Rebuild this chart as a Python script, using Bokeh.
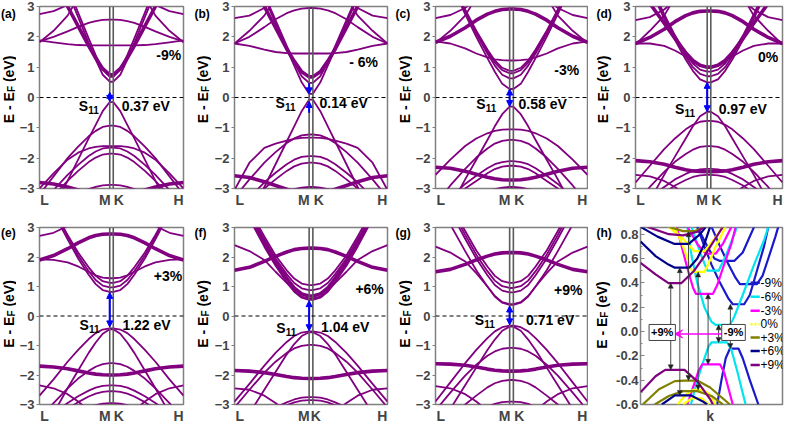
import math
from bokeh.plotting import figure
from bokeh.layouts import row, column
from bokeh.models import (Label, Arrow, NormalHead, VeeHead, FixedTicker, Span,
                          Range1d, NumeralTickFormatter)
from bokeh.embed import file_html
from bokeh.resources import INLINE

FONT = "Liberation Sans"
PURPLE = "#800080"
BLUE = "#0000FF"

# ---------------- data: panels (a)-(g) ----------------
# fraction of the path from M towards L (mirrored from K towards H)
D = [0, 0.1, 0.2, 0.3, 0.45, 0.6, 0.8, 1.0]
X_M, X_K, X_H = 1.0, 1.05, 2.05

a_thin = [
    [0.52, 0.75, 1.25, 1.8, 2.65, 3.5, 4.6, 5.7],
    [0.68, 0.92, 1.4, 1.95, 2.8, 3.65, 4.7, 5.8],
    [1.72, 1.72, 1.72, 1.72, 1.73, 1.76, 1.82, 1.88],
    [2.57, 2.56, 2.52, 2.46, 2.33, 2.18, 2.0, 1.85],
    [6.0, 5.2, 4.6, 4.0, 3.3, 2.7, 2.2, 1.82],
    [5.0, 4.5, 4.1, 3.8, 3.4, 3.05, 2.85, 2.75],
    [-0.15, -0.45, -0.9, -1.35, -2.05, -2.75, -3.6, -4.5],
    [-0.93, -0.97, -1.1, -1.28, -1.62, -2.0, -2.6, -3.2],
    [-1.65, -1.68, -1.78, -1.93, -2.22, -2.55, -3.05, -3.6],
    [-1.85, -1.88, -1.98, -2.13, -2.42, -2.75, -3.25, -3.8],
    [-1.6, -1.6, -1.63, -1.68, -1.82, -2.05, -2.5, -3.0],
    [-2.88, -2.9, -2.95, -3.02, -3.15, -3.3, -3.5, -3.7],
]
a_thick = [
    [0.75, 0.95, 1.3, 1.7, 2.35, 3.0, 3.9, 4.8],
    [-3.4, -3.35, -3.3, -3.2, -3.05, -2.95, -2.85, -2.8],
]

b_thin = [
    [0.12, 0.5, 1.05, 1.6, 2.45, 3.3, 4.4, 5.5],
    [0.48, 0.7, 1.15, 1.7, 2.55, 3.4, 4.5, 5.6],
    [1.45, 1.45, 1.45, 1.46, 1.5, 1.58, 1.7, 1.78],
    [2.95, 2.93, 2.87, 2.78, 2.58, 2.32, 2.0, 1.78],
    [6.0, 5.2, 4.6, 4.0, 3.3, 2.7, 2.2, 1.78],
    [4.5, 4.2, 3.9, 3.6, 3.25, 2.95, 2.7, 2.62],
    [-0.07, -0.45, -0.95, -1.45, -2.2, -2.95, -3.9, -4.8],
    [-1.22, -1.25, -1.35, -1.5, -1.8, -2.15, -2.7, -3.3],
    [-1.32, -1.33, -1.36, -1.42, -1.52, -1.66, -2.15, -3.05],
    [-1.93, -1.96, -2.05, -2.2, -2.48, -2.8, -3.3, -3.8],
    [-2.15, -2.18, -2.27, -2.42, -2.7, -3.0, -3.5, -4.0],
    [-2.95, -2.97, -3.02, -3.1, -3.25, -3.4, -3.6, -3.8],
]
b_thick = [
    [0.68, 0.85, 1.2, 1.6, 2.3, 3.0, 3.9, 4.8],
    [-3.2, -3.15, -3.1, -3.02, -2.9, -2.78, -2.64, -2.58],
]

c_thin = [
    [0.28, 0.45, 0.85, 1.3, 2.0, 2.75, 3.8, 4.8],
    [0.63, 0.75, 1.05, 1.45, 2.1, 2.85, 3.9, 4.9],
    [0.8, 0.9, 1.15, 1.52, 2.15, 2.85, 3.8, 4.8],
    [0.88, 0.98, 1.22, 1.58, 2.2, 2.9, 3.85, 4.8],
    [1.22, 1.23, 1.26, 1.32, 1.45, 1.62, 1.78, 1.85],
    [6.0, 5.2, 4.6, 4.0, 3.3, 2.7, 2.2, 1.8],
    [4.5, 4.2, 3.9, 3.6, 3.25, 2.95, 2.72, 2.62],
    [-0.3, -0.55, -0.95, -1.4, -2.05, -2.7, -3.6, -4.5],
    [-1.05, -1.06, -1.1, -1.18, -1.35, -1.6, -2.05, -2.55],
    [-1.4, -1.43, -1.52, -1.68, -1.98, -2.35, -2.9, -3.5],
    [-2.1, -2.13, -2.2, -2.33, -2.58, -2.85, -3.3, -3.8],
    [-2.25, -2.28, -2.36, -2.5, -2.75, -3.0, -3.5, -4.0],
    [-2.95, -2.97, -3.02, -3.1, -3.25, -3.4, -3.6, -3.8],
]
c_thick = [
    [2.92, 2.9, 2.84, 2.75, 2.55, 2.3, 2.02, 1.82],
    [-2.72, -2.71, -2.68, -2.63, -2.53, -2.43, -2.33, -2.3],
]

d_thin = [
    [0.5, 0.6, 0.88, 1.25, 1.9, 2.6, 3.6, 4.6],
    [0.7, 0.78, 1.0, 1.35, 1.98, 2.7, 3.7, 4.7],
    [0.85, 0.92, 1.12, 1.45, 2.05, 2.75, 3.75, 4.75],
    [1.0, 1.05, 1.18, 1.35, 1.55, 1.7, 1.78, 1.78],
    [6.0, 5.2, 4.6, 4.0, 3.3, 2.7, 2.2, 1.75],
    [4.5, 4.2, 3.9, 3.6, 3.2, 2.9, 2.65, 2.55],
    [-0.47, -0.62, -0.95, -1.35, -1.95, -2.55, -3.4, -4.2],
    [-0.77, -0.8, -0.9, -1.05, -1.35, -1.7, -2.25, -2.8],
    [-1.6, -1.63, -1.72, -1.86, -2.12, -2.45, -2.95, -3.5],
    [-2.35, -2.37, -2.42, -2.52, -2.7, -2.95, -3.3, -3.7],
    [-2.55, -2.57, -2.62, -2.72, -2.9, -3.15, -3.5, -3.9],
    [-3.8, -3.6, -3.4, -3.2, -2.95, -2.75, -2.6, -2.55],
]
d_thick = [
    [1.0, 1.06, 1.22, 1.48, 1.95, 2.45, 3.1, 3.8],
    [2.85, 2.84, 2.79, 2.7, 2.5, 2.25, 1.98, 1.78],
    [-2.45, -2.44, -2.42, -2.38, -2.3, -2.2, -2.12, -2.08],
]

e_thin = [
    [0.82, 0.88, 1.08, 1.4, 1.95, 2.6, 3.5, 4.4],
    [0.97, 1.03, 1.22, 1.52, 2.05, 2.7, 3.6, 4.5],
    [1.12, 1.18, 1.36, 1.65, 2.15, 2.75, 3.6, 4.5],
    [1.28, 1.3, 1.38, 1.5, 1.68, 1.82, 1.9, 1.92],
    [5.0, 4.6, 4.2, 3.8, 3.4, 3.05, 2.82, 2.72],
    [-0.42, -0.46, -0.58, -0.78, -1.15, -1.55, -2.15, -2.7],
    [-0.45, -0.6, -0.9, -1.25, -1.85, -2.45, -3.3, -4.1],
    [-1.6, -1.63, -1.72, -1.86, -2.12, -2.45, -2.95, -3.5],
    [-2.35, -2.37, -2.43, -2.53, -2.72, -2.95, -3.3, -3.7],
    [-2.55, -2.57, -2.63, -2.73, -2.92, -3.15, -3.5, -3.9],
    [-2.95, -2.97, -3.02, -3.1, -3.25, -3.4, -3.6, -3.8],
    [-4.0, -3.7, -3.45, -3.2, -2.9, -2.65, -2.45, -2.35],
]
e_thick = [
    [2.78, 2.77, 2.73, 2.65, 2.48, 2.28, 2.05, 1.9],
    [-2.0, -1.99, -1.97, -1.93, -1.86, -1.79, -1.73, -1.7],
]

f_thin = [
    [0.55, 0.62, 0.82, 1.15, 1.7, 2.35, 3.3, 4.2],
    [0.88, 0.94, 1.12, 1.42, 1.95, 2.6, 3.5, 4.4],
    [1.05, 1.1, 1.27, 1.55, 2.05, 2.7, 3.6, 4.5],
    [0.6, 0.66, 0.85, 1.12, 1.5, 1.9, 2.2, 2.4],
    [-0.52, -0.56, -0.68, -0.88, -1.25, -1.68, -2.3, -2.9],
    [-0.55, -0.68, -0.95, -1.3, -1.9, -2.5, -3.3, -4.1],
    [-0.98, -1.01, -1.1, -1.25, -1.55, -1.92, -2.5, -3.1],
    [-2.75, -2.77, -2.83, -2.93, -3.1, -3.3, -3.6, -3.9],
    [-2.85, -2.87, -2.93, -3.03, -3.2, -3.4, -3.7, -4.0],
    [-4.0, -3.8, -3.5, -3.25, -2.95, -2.7, -2.5, -2.45],
]
f_thick = [
    [0.68, 0.75, 0.95, 1.28, 1.82, 2.48, 3.4, 4.3],
    [2.3, 2.29, 2.25, 2.17, 2.02, 1.85, 1.65, 1.55],
    [-2.12, -2.11, -2.09, -2.05, -1.98, -1.92, -1.87, -1.85],
]

g_thin = [
    [0.38, 0.45, 0.66, 1.0, 1.55, 2.2, 3.1, 4.0],
    [0.8, 0.86, 1.05, 1.38, 1.95, 2.62, 3.55, 4.5],
    [0.95, 1.01, 1.2, 1.52, 2.08, 2.75, 3.7, 4.6],
    [1.12, 1.18, 1.36, 1.68, 2.22, 2.88, 3.8, 4.7],
    [0.4, 0.47, 0.68, 1.0, 1.45, 1.85, 2.15, 2.35],
    [-0.33, -0.38, -0.52, -0.75, -1.15, -1.6, -2.25, -2.9],
    [-0.36, -0.5, -0.8, -1.15, -1.75, -2.35, -3.15, -3.95],
    [-1.08, -1.11, -1.2, -1.35, -1.65, -2.02, -2.6, -3.2],
    [-2.17, -2.2, -2.28, -2.42, -2.7, -3.0, -3.5, -4.0],
    [-2.9, -2.92, -2.98, -3.08, -3.25, -3.45, -3.7, -4.0],
    [-4.0, -3.8, -3.5, -3.2, -2.9, -2.65, -2.45, -2.38],
]
g_thick = [
    [2.15, 2.14, 2.1, 2.03, 1.9, 1.75, 1.58, 1.5],
    [-1.87, -1.86, -1.84, -1.8, -1.73, -1.67, -1.63, -1.62],
]

strain_labels = ["-9%", "- 6%", "-3%", "0%", "+3%", "+6%", "+9%"]
strain_pos = [(1.84, 1.4), (1.73, 1.16), (1.77, 0.9), (1.85, 1.32), (1.83, 1.35), (1.81, 0.91), (1.79, 0.88)]
gap_labels = ["0.37 eV", "0.14 eV", "0.58 eV", "0.97 eV", "1.22 eV", "1.04 eV", "0.71 eV"]
gap_pos = [(1.17, -0.27), (1.14, -0.17), (1.12, -0.2), (1.16, -0.37), (1.18, -0.3), (1.16, -0.37), (1.22, -0.14)]
s11_pos = [(0.56, -0.27), (0.55, -0.17), (0.55, -0.2), (0.55, -0.37), (0.57, -0.3), (0.56, -0.4), (0.53, -0.14)]
# (start, end, double-headed?) of the blue S11 arrows
gap_arrows = [
    [(-0.13, 0.17, True)],
    [(0.47, 0.12, False), (-0.5, -0.13, False)],
    [(-0.3, 0.28, True)],
    [(-0.47, 0.5, True)],
    [(-0.37, 0.8, True)],
    [(-0.5, 0.52, True)],
    [(-0.3, 0.34, True)],
]
path_tick_x = [0.07, 0.93, 1.98]
k_label_x = [1.13, 1.13, 1.13, 1.13, 1.13, 1.09, 1.13]
panel_tags = ["(a)", "(b)", "(c)", "(d)", "(e)", "(f)", "(g)", "(h)"]
panel_thin = [a_thin, b_thin, c_thin, d_thin, e_thin, f_thin, g_thin]
panel_thick = [a_thick, b_thick, c_thick, d_thick, e_thick, f_thick, g_thick]

# ---------------- data: panel (h) ----------------
h_strains = ["-9%", "-6%", "-3%", "0%", "+3%", "+6%", "+9%"]
h_colors = ["#1a1acd", "#00e5ee", "#ff00ff", "#ffff00", "#808000", "#00008b", "#800080"]
h_m9 = [
    ([0.40, 0.45, 0.5, 0.56, 0.62, 0.65, 0.73, 0.77, 0.82, 0.87, 0.9], [0.86, 0.7, 0.55, 0.4, 0.27, 0.224, 0.224, 0.3, 0.5, 0.7, 0.86]),
    ([0.5, 0.56, 0.62, 0.67, 0.7, 0.82, 0.86, 0.9, 0.95, 0.97], [0.86, 0.7, 0.55, 0.44, 0.39, 0.39, 0.46, 0.6, 0.78, 0.86]),
    ([0.4, 0.47, 0.52, 0.56, 0.66, 0.72, 0.8], [0.86, 0.7, 0.6, 0.58, 0.58, 0.65, 0.86]),
    ([0.54, 0.57, 0.6, 0.63, 0.69, 0.72, 0.77, 0.83], [-0.6, -0.4, -0.22, -0.14, -0.14, -0.22, -0.4, -0.6]),
]
h_m6 = [
    ([0.33, 0.36, 0.4, 0.45, 0.5, 0.53, 0.63, 0.66, 0.72, 0.8, 0.87, 0.9], [0.86, 0.62, 0.4, 0.2, 0.08, 0.055, 0.055, 0.12, 0.3, 0.55, 0.75, 0.86]),
    ([0.36, 0.42, 0.47, 0.55, 0.6, 0.68], [0.86, 0.65, 0.5, 0.5, 0.62, 0.86]),
    ([0.355, 0.4, 0.45, 0.48, 0.5, 0.61, 0.64, 0.68, 0.74], [-0.6, -0.4, -0.22, -0.12, -0.09, -0.09, -0.15, -0.32, -0.6]),
]
h_m3 = [
    ([0.255, 0.29, 0.33, 0.37, 0.39, 0.51, 0.54, 0.58, 0.64, 0.67], [0.86, 0.7, 0.52, 0.36, 0.31, 0.31, 0.38, 0.52, 0.72, 0.86]),
    ([0.33, 0.4, 0.46, 0.53, 0.58, 0.64], [0.86, 0.72, 0.64, 0.64, 0.72, 0.86]),
    ([0.33, 0.37, 0.41, 0.435, 0.56, 0.59, 0.62, 0.65], [-0.6, -0.46, -0.32, -0.27, -0.27, -0.34, -0.47, -0.6]),
]
h_0 = [
    ([0.24, 0.3, 0.345, 0.365, 0.45, 0.48, 0.53, 0.6], [0.86, 0.7, 0.55, 0.49, 0.49, 0.56, 0.7, 0.86]),
    ([0.2, 0.3, 0.38, 0.45, 0.52, 0.58], [0.86, 0.76, 0.66, 0.66, 0.76, 0.86]),
    ([0.26, 0.32, 0.37, 0.44, 0.49, 0.53], [-0.6, -0.52, -0.48, -0.48, -0.52, -0.6]),
    ([0.3, 0.36, 0.43, 0.48], [-0.6, -0.55, -0.55, -0.6]),
]
h_p3 = [
    ([0.2, 0.3, 0.38, 0.45], [0.86, 0.825, 0.825, 0.86]),
    ([0.016, 0.13, 0.242, 0.31, 0.40, 0.49, 0.63], [-0.6, -0.475, -0.408, -0.403, -0.403, -0.46, -0.6]),
    ([0.1, 0.2, 0.3, 0.4, 0.5, 0.58], [-0.6, -0.53, -0.49, -0.49, -0.53, -0.6]),
]
h_p6 = [
    ([0.0, 0.106, 0.197, 0.242, 0.344, 0.40, 0.45, 0.49], [0.74, 0.62, 0.55, 0.525, 0.525, 0.6, 0.72, 0.86]),
    ([0.0, 0.12, 0.24, 0.34, 0.42, 0.46], [0.86, 0.78, 0.72, 0.72, 0.8, 0.86]),
    ([0.15, 0.242, 0.355, 0.446, 0.47], [-0.6, -0.525, -0.525, -0.58, -0.6]),
]
h_p9 = [
    ([0.0, 0.106, 0.197, 0.287, 0.378, 0.45, 0.52, 0.58], [0.565, 0.47, 0.397, 0.397, 0.5, 0.62, 0.75, 0.86]),
    ([0.05, 0.2, 0.3, 0.4, 0.45], [0.86, 0.8, 0.79, 0.82, 0.86]),
    ([0.0, 0.106, 0.174, 0.31, 0.40, 0.49, 0.51], [-0.50, -0.368, -0.315, -0.315, -0.41, -0.555, -0.6]),
]
h_bands = [h_m9, h_m6, h_m3, h_0, h_p3, h_p6, h_p9]
h_gap_k = [0.633, 0.55, 0.476, 0.406, 0.338, 0.277, 0.213]
h_cbm = [0.224, 0.055, 0.31, 0.49, 0.82, 0.525, 0.397]
h_vbm = [-0.14, -0.09, -0.27, -0.48, -0.403, -0.525, -0.315]
h_legend_y = [0.4, 0.285, 0.17, 0.06, -0.05, -0.16, -0.275]
h_yticks = [-0.6, -0.4, -0.2, 0.0, 0.2, 0.4, 0.6, 0.8]

# ---------------- layout (pixels) ----------------
FIG_H = 213
ROW_TOP = [6, 14]
ROW_FRAME = [182, 180]
# per column: side strip width, panel left border, frame width, right border
COLS = [(16, 20, 147, 9), (19, 20, 156, 5), (20, 20, 155, 1), (24, 20, 150, 2)]
H_COL = (24, 28, 142, 2)
TAG_X = [0.5, 2, 3, 8]
H_TAG_X = 8
YLAB_X = [8, 10, 12, 14]
H_YLAB_X = 13


def txt(p, x, y, text, size=14, bold=True, align="left", baseline="middle",
        angle=0.0, color="black", x_off=0, y_off=0, **kw):
    lab = Label(x=x, y=y, text=text, angle=angle,
                text_font=FONT, text_font_size=f"{size}px",
                text_font_style="bold" if bold else "normal",
                text_align=align, text_baseline=baseline, text_color=color,
                x_offset=x_off, y_offset=y_off, **kw)
    p.add_layout(lab)
    return lab


def side_strip(ri, width, tag, tag_x, ylab_x, ylab_y):
    """Narrow strip left of a panel holding the panel letter and the y-axis title."""
    s = figure(width=width, height=FIG_H, x_range=Range1d(0, width), y_range=Range1d(0, FIG_H),
               output_backend="svg", toolbar_location=None, min_border=0)
    s.axis.visible = False
    s.grid.visible = False
    s.outline_line_color = None
    if ri == 0:
        txt(s, tag_x, FIG_H - 1, tag, size=12, baseline="top")
    else:
        txt(s, tag_x, FIG_H - 7, tag, size=12, baseline="middle")
    l1, l2, l3, l4 = 31.1, 6.1, 3.9, 26.5
    start = -(l1 + l2 + l3 + l4) / 2
    a = math.pi / 2
    txt(s, ylab_x, ylab_y, "E - E", angle=a, y_off=start)
    txt(s, ylab_x + 3, ylab_y, "F", size=10, angle=a, y_off=start + l1)
    txt(s, ylab_x, ylab_y, "(eV)", angle=a, y_off=start + l1 + l2 + l3)
    return s


def base_fig(ri, col, xr, yr):
    sw, lb, fw, rb = col
    p = figure(width=lb + fw + rb, height=FIG_H, x_range=xr, y_range=yr,
               output_backend="svg", toolbar_location=None,
               min_border_left=lb, min_border_right=rb,
               min_border_top=ROW_TOP[ri],
               min_border_bottom=FIG_H - ROW_TOP[ri] - ROW_FRAME[ri])
    p.grid.visible = False
    p.outline_line_color = "#808080"
    p.outline_line_width = 1.5
    for ax in (p.xaxis[0], p.yaxis[0]):
        ax.axis_line_color = None
        ax.major_tick_line_color = "#808080"
        ax.minor_tick_line_color = "#808080"
        ax.major_label_text_font = FONT
        ax.major_label_text_font_style = "bold"
    p.yaxis[0].major_label_text_font_size = "13px"
    p.yaxis[0].major_label_standoff = 2
    xa = p.xaxis[0]
    xa.major_label_text_font_size = "14px"
    xa.major_label_standoff = 3
    xa.major_tick_in = 0
    xa.major_tick_out = 0
    xa.minor_tick_in = 0
    xa.minor_tick_out = 0
    return p


def half_to_full(vals):
    xs = [X_M - d for d in reversed(D)] + [X_K + d for d in D]
    ys = list(reversed(vals)) + list(vals)
    return xs, ys


def band_panel(i):
    ri, ci = divmod(i, 4)
    col = COLS[ci]
    p = base_fig(ri, col, Range1d(0, X_H), Range1d(-3, 3))
    ya = p.yaxis[0]
    ya.ticker = FixedTicker(ticks=[-3, -2, -1, 0, 1, 2, 3])
    ya.major_tick_out = 3
    ya.major_tick_in = 0
    ya.minor_tick_out = 0
    ya.minor_tick_in = 0
    xa = p.xaxis[0]
    kx = k_label_x[i]
    xa.ticker = FixedTicker(ticks=[path_tick_x[0], path_tick_x[1], kx, path_tick_x[2]])
    xa.major_label_overrides = {path_tick_x[0]: "L", path_tick_x[1]: "M", kx: "K", path_tick_x[2]: "H"}
    for group, lw in ((panel_thin[i], 1.8), (panel_thick[i], 3.6)):
        xs_l, ys_l = [], []
        for vals in group:
            xs, ys = half_to_full(vals)
            xs_l.append(xs)
            ys_l.append(ys)
        p.multi_line(xs_l, ys_l, line_color=PURPLE, line_width=lw, line_join="round")
    for loc in (X_M, X_K):
        p.add_layout(Span(location=loc, dimension="height", line_color="#5a5a5a", line_width=1.6))
    p.add_layout(Span(location=0, dimension="width", line_color="black", line_dash="4 3", line_width=1))
    for (y0, y1, both) in gap_arrows[i]:
        head = lambda: NormalHead(size=6, fill_color=BLUE, line_color=BLUE)
        p.add_layout(Arrow(x_start=X_M, y_start=y0, x_end=X_M, y_end=y1,
                           start=head() if both else None, end=head(),
                           line_color=BLUE, line_width=2))
    sx, sy = strain_pos[i]
    txt(p, sx, sy, strain_labels[i], align="center")
    s_x, s_y = s11_pos[i]
    txt(p, s_x, s_y, "S")
    txt(p, s_x, s_y, "11", size=10, x_off=9.5, y_off=-4)
    gx, gy = gap_pos[i]
    txt(p, gx, gy, gap_labels[i])
    yc = FIG_H - ROW_TOP[ri] - ROW_FRAME[ri] / 2
    strip = side_strip(ri, col[0], panel_tags[i], TAG_X[ci], YLAB_X[ci], yc)
    return strip, p


def h_panel():
    p = base_fig(1, H_COL, Range1d(0, 1), Range1d(-0.6, 0.855))
    ya = p.yaxis[0]
    ya.ticker = FixedTicker(ticks=h_yticks, minor_ticks=[-0.5, -0.3, -0.1, 0.1, 0.3, 0.5, 0.7])
    ya.formatter = NumeralTickFormatter(format="0.0")
    ya.major_tick_in = 4
    ya.major_tick_out = 0
    ya.minor_tick_in = 2
    ya.minor_tick_out = 0
    xa = p.xaxis[0]
    xa.ticker = FixedTicker(ticks=[0.49])
    xa.major_label_overrides = {0.49: "k"}
    for bands, colr in zip(h_bands, h_colors):
        p.multi_line([b[0] for b in bands], [b[1] for b in bands], line_color=colr,
                     line_width=2.2, line_join="round")
    for k, cb, vb in zip(h_gap_k, h_cbm, h_vbm):
        hd = lambda: NormalHead(size=5, fill_color="#222222", line_color="#222222", line_width=0.5)
        p.add_layout(Arrow(x_start=k, y_start=vb, x_end=k, y_end=cb, start=hd(), end=hd(),
                           line_color="#333333", line_width=0.9))
    p.add_layout(Arrow(x_start=0.585, y_start=-0.02, x_end=0.24, y_end=-0.02,
                       end=VeeHead(size=8, line_color="#ff00ff", fill_color="#ff00ff"),
                       line_color="#ff00ff", line_width=1.6))
    for bx, bt in ((0.153, "+9%"), (0.655, "-9%")):
        txt(p, bx, -0.008, bt, size=11, align="center", background_fill_color="white",
            border_line_color="#444444", border_line_width=1, padding=2)
    for name, colr, ly in zip(h_strains, h_colors, h_legend_y):
        p.line([0.775, 0.84], [ly, ly], line_color=colr, line_width=2.5,
               line_dash="2 2" if name == "0%" else "solid")
        txt(p, 0.845, ly, name, size=12, bold=False)
    y0 = FIG_H - ROW_TOP[1] - ROW_FRAME[1] * (0.855 - 0.117) / 1.455
    strip = side_strip(1, H_COL[0], panel_tags[7], H_TAG_X, H_YLAB_X, y0)
    return strip, p


items = [band_panel(i) for i in range(7)] + [h_panel()]
figs = [f for pair in items for f in pair]
layout = column(row(*figs[:8]), row(*figs[8:]))
open("out.html", "w").write(file_html(layout, INLINE))
